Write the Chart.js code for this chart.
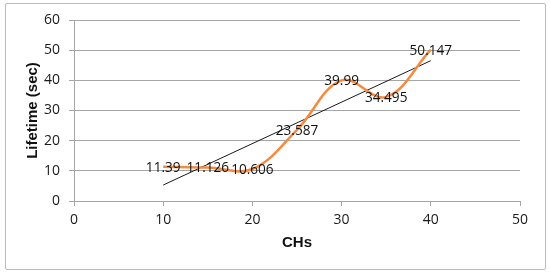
<!DOCTYPE html>
<html>
<head>
<meta charset="utf-8">
<script src="https://cdn.jsdelivr.net/npm/chart.js@4/dist/chart.umd.min.js"></script>
<style>
    html, body { margin: 0; padding: 0; background: #fff; }
    #wrap { position: relative; width: 550px; height: 276px; }
    #frame {
        position: absolute; left: 5px; top: 3px; width: 539px; height: 265px;
        border: 1px solid #bcbcbc; border-radius: 2px; pointer-events: none;
    }
    canvas { position: absolute; left: 0; top: 0; }
</style>
</head>
<body>
<div id="wrap">
    <canvas id="chart" width="550" height="276"></canvas>
    <div id="frame"></div>
</div>
<script>
// number of CHs and measured lifetime (sec)
const chs = [10, 15, 20, 25, 30, 35, 40];
const lifetime = [11.39, 11.126, 10.606, 23.587, 39.99, 34.495, 50.147];
const xTicks = [0, 10, 20, 30, 40, 50];
const yTicks = [0, 10, 20, 30, 40, 50, 60];

// linear trendline (least squares) through the series
function trend(xs, ys) {
    const n = xs.length;
    const mx = xs.reduce((a, b) => a + b, 0) / n;
    const my = ys.reduce((a, b) => a + b, 0) / n;
    let sxy = 0, sxx = 0;
    xs.forEach((x, i) => { sxy += (x - mx) * (ys[i] - my); sxx += (x - mx) * (x - mx); });
    const slope = sxy / sxx;
    const first = xs[0], last = xs[n - 1];
    return [
        { x: first, y: my + slope * (first - mx) },
        { x: last, y: my + slope * (last - mx) }
    ];
}

const labelFont = '13.6px "Open Sans", sans-serif';

// value labels centered on each point
const valueLabels = {
    id: 'valueLabels',
    afterDatasetsDraw(chart) {
        const ctx = chart.ctx;
        const meta = chart.getDatasetMeta(0);
        ctx.save();
        ctx.font = labelFont;
        ctx.fillStyle = '#111';
        ctx.textAlign = 'center';
        ctx.textBaseline = 'middle';
        meta.data.forEach((pt, i) => {
            ctx.fillText(String(lifetime[i]), pt.x, pt.y + 1);
        });
        ctx.restore();
    }
};

const ctx = document.getElementById('chart').getContext('2d');
new Chart(ctx, {
    type: 'scatter',
    data: {
        datasets: [
            {
                label: 'Lifetime',
                data: chs.map((x, i) => ({ x: x, y: lifetime[i] })),
                showLine: true,
                borderColor: '#f58b3f',
                borderWidth: 2.5,
                pointRadius: 0,
                tension: 0.38,
                fill: false
            },
            {
                label: 'Linear (Lifetime)',
                data: trend(chs, lifetime),
                showLine: true,
                borderColor: '#1a1a1a',
                borderWidth: 1,
                pointRadius: 0,
                fill: false
            }
        ]
    },
    options: {
        responsive: false,
        animation: false,
        layout: { padding: { top: 20, right: 30, bottom: 0, left: 0 } },
        plugins: {
            legend: { display: false },
            tooltip: { enabled: false }
        },
        scales: {
            x: {
                type: 'linear',
                min: 0,
                max: 50,
                afterBuildTicks: axis => { axis.ticks = xTicks.map(v => ({ value: v })); },
                afterFit: axis => { axis.height = 75; },
                grid: { drawOnChartArea: false, drawTicks: true, tickLength: 5, color: '#a6a6a6' },
                border: { color: '#a6a6a6' },
                ticks: { padding: 6, color: '#1a1a1a', font: { family: 'Open Sans', size: 14 }, maxRotation: 0 },
                title: {
                    display: true,
                    text: 'CHs',
                    color: '#111',
                    font: { family: 'Liberation Sans', size: 15, weight: 'bold' },
                    padding: { top: 0, bottom: 24 }
                }
            },
            y: {
                min: 0,
                max: 60,
                afterBuildTicks: axis => { axis.ticks = yTicks.map(v => ({ value: v })); },
                afterFit: axis => { axis.width = 74; },
                grid: { color: '#a6a6a6', tickLength: 5 },
                border: { color: '#a6a6a6' },
                ticks: { padding: 9, color: '#1a1a1a', font: { family: 'Open Sans', size: 14 } },
                title: {
                    display: true,
                    text: 'Lifetime (sec)',
                    color: '#111',
                    font: { family: 'Liberation Sans', size: 15, weight: 'bold' },
                    padding: { top: 24, bottom: 0 }
                }
            }
        }
    },
    plugins: [valueLabels]
});
</script>
</body>
</html>
